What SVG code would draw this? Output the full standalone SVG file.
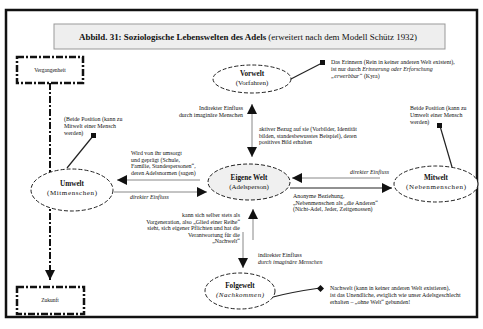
<svg xmlns="http://www.w3.org/2000/svg" width="483" height="329" viewBox="0 0 483 329">
<style>
text{font-family:"Liberation Serif","DejaVu Serif",serif;fill:#111}
.t{font-size:5.9px}
.n{font-size:7.2px;font-weight:bold;text-anchor:middle}
.s{font-size:7px;text-anchor:middle}
.i{font-style:italic}
.ell{fill:#fff;stroke:#222;stroke-width:1;stroke-dasharray:4 2}
.box{fill:#fff;stroke:#111;stroke-width:2.5;stroke-dasharray:7 2 2 2}
.con{stroke:#888;stroke-width:1;fill:none}
.lead{stroke:#222;stroke-width:1.2;fill:none}
.dot{fill:#111}
</style>
<defs>
<marker id="ah" viewBox="0 0 10 10" refX="10" refY="5" markerWidth="10" markerHeight="10" markerUnits="userSpaceOnUse" orient="auto-start-reverse">
<path d="M0,0 L10,5 L0,10 z" fill="#111"/>
</marker>
</defs>
<rect x="0" y="0" width="483" height="329" fill="#fff"/>
<rect x="6" y="10" width="471" height="307" fill="none" stroke="#111" stroke-width="2.5"/>
<g id="title">
<rect x="54" y="24" width="391" height="25" fill="#eeeeee" stroke="#999" stroke-width="1"/>
<text x="248" y="39.5" text-anchor="middle" textLength="338" lengthAdjust="spacingAndGlyphs" style="font-size:8px"><tspan font-weight="bold">Abbild. 31: Soziologische Lebenswelten des Adels</tspan> (erweitert nach dem Modell Schütz 1932)</text>
</g>
<g id="connectors">
<line x1="50" y1="83" x2="50" y2="280" stroke="#111" stroke-width="2" stroke-dasharray="7 2 2 2" marker-end="url(#ah)"/>
<line class="con" x1="252" y1="104" x2="252" y2="157" marker-start="url(#ah)" marker-end="url(#ah)"/>
<line class="con" x1="200" y1="180" x2="117" y2="180" marker-end="url(#ah)"/>
<line class="con" x1="114" y1="192" x2="207" y2="192" marker-end="url(#ah)"/>
<line class="con" x1="380" y1="178" x2="292" y2="178" stroke="#ccc" marker-end="url(#ah)"/>
<line x1="290" y1="188" x2="392" y2="188" stroke="#222" stroke-width="1" marker-end="url(#ah)"/>
<line class="con" x1="253" y1="240" x2="253" y2="209" marker-end="url(#ah)"/>
<line class="con" x1="243" y1="232" x2="243" y2="268" marker-end="url(#ah)"/>
<path class="lead" d="M289,80 L322,63"/>
<path class="lead" d="M93,136 L67,168"/>
<path class="lead" d="M440,126 L452,167"/>
<path class="lead" d="M273,297 Q292,292 320,288"/>
</g>
<g id="vergangenheit">
<rect class="box" x="17" y="57" width="66" height="26"/>
<text class="s" x="50" y="72" style="font-size:5.5px">Vergangenheit</text>
</g>
<g id="zukunft">
<rect class="box" x="17" y="287" width="67" height="27"/>
<text class="s" x="50" y="302" style="font-size:5.5px">Zukunft</text>
</g>
<g id="vorwelt">
<ellipse class="ell" cx="252" cy="79" rx="39" ry="14"/>
<text class="n" x="252" y="76">Vorwelt</text>
<text class="s" x="252" y="85">(Vorfahren)</text>
</g>
<g id="eigene-welt">
<ellipse class="ell" cx="249" cy="182" rx="41" ry="18" style="fill:#f0f0f0"/>
<text class="n" x="249" y="180">Eigene Welt</text>
<text class="s" x="249" y="189">(Adelsperson)</text>
</g>
<g id="umwelt">
<ellipse class="ell" cx="72" cy="190" rx="41" ry="21"/>
<text class="n" x="72" y="186">Umwelt</text>
<text class="s" x="72" y="195" textLength="50" lengthAdjust="spacing">(Mitmenschen)</text>
</g>
<g id="mitwelt">
<ellipse class="ell" cx="436" cy="184" rx="42" ry="18"/>
<text class="n" x="436" y="180">Mitwelt</text>
<text class="s" x="436" y="189" textLength="60" lengthAdjust="spacing">(Nebenmenschen)</text>
</g>
<g id="folgewelt">
<ellipse class="ell" cx="240" cy="291" rx="35" ry="18"/>
<text class="n" x="240" y="288">Folgewelt</text>
<text class="s i" x="240" y="297" textLength="48" lengthAdjust="spacing">(Nachkommen)</text>
</g>
<g id="labels">
<rect class="dot" x="320" y="60" width="5" height="5"/>
<text class="t" x="331" y="64">Das Erinnern (Rein in keiner anderen Welt existent),</text>
<text class="t" x="331" y="71">ist nur durch <tspan class="i">Erinnerung oder Erforschung</tspan></text>
<text class="t" x="331" y="78"><tspan class="i">„erwerbbar“</tspan> (Kyra)</text>
<text class="t" x="243" y="110" text-anchor="end">Indirekter Einfluss</text>
<text class="t" x="243" y="116.5" text-anchor="end">durch imaginäre Menschen</text>
<text class="t" x="259" y="131">aktiver Bezug auf sie (Vorbilder, Identität</text>
<text class="t" x="259" y="137.5">bilden, standesbewusstes Beispiel), deren</text>
<text class="t" x="259" y="144">positives Bild erhalten</text>
<text class="t" x="410" y="110">Beide Position (kann zu</text>
<text class="t" x="410" y="116.5">Umwelt einer Mensch</text>
<text class="t" x="410" y="123.5">werden)</text>
<rect class="dot" x="437" y="123" width="5" height="5"/>
<text class="t" x="64" y="121">(Beide Position (kann zu</text>
<text class="t" x="64" y="127.5">Mitwelt einer Mensch</text>
<text class="t" x="64" y="135">werden)</text>
<rect class="dot" x="91" y="133" width="5" height="5"/>
<text class="t" x="131" y="155">Wird von ihr umsorgt</text>
<text class="t" x="131" y="161.5">und geprägt (Schule,</text>
<text class="t" x="131" y="168">Familie, Standespersonen“,</text>
<text class="t" x="131" y="174.5">deren Adelsnormen (sagen)</text>
<text class="t i" x="130" y="199">direkter Einfluss</text>
<text class="t i" x="389" y="174" text-anchor="end">direkter Einfluss</text>
<text class="t" x="293" y="198">Anonyme Beziehung,</text>
<text class="t" x="293" y="204.5">„Nebenmenschen als „die Anderen“</text>
<text class="t" x="293" y="211">(Nicht-Adel, Jeder, Zeitgenossen)</text>
<text class="t" x="240" y="217" text-anchor="end">kann sich selber stets als</text>
<text class="t" x="240" y="223.5" text-anchor="end">Vorgeneration, also „Glied einer Reihe“</text>
<text class="t" x="240" y="230" text-anchor="end">sieht, sich eigener Pflichten und hat die</text>
<text class="t" x="240" y="236.5" text-anchor="end">Verantwortung für die</text>
<text class="t" x="240" y="243" text-anchor="end">„Nachwelt“</text>
<text class="t" x="258" y="257">indirekter Einfluss</text>
<text class="t i" x="258" y="263.5">durch imaginäre Menschen</text>
<rect class="dot" x="318" y="286" width="5" height="5" transform="rotate(45 320.5 288.5)"/>
<text class="t" x="330" y="290">Nachwelt (kann in keiner anderen Welt existieren),</text>
<text class="t" x="330" y="297">ist das Unendliche, ewiglich wie unser Adelsgeschlecht</text>
<text class="t" x="330" y="304">erhalten – „ohne Welt“ gebunden!</text>
</g>
</svg>
